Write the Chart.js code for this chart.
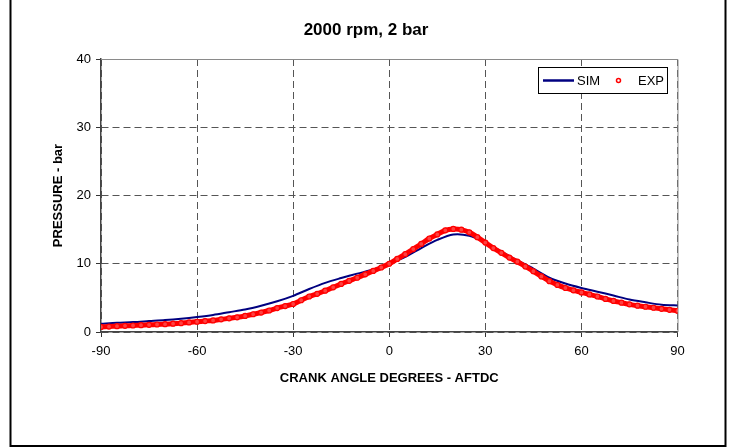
<!DOCTYPE html>
<html lang="en">
<head>
    <meta charset="UTF-8">
    <title>2000 rpm, 2 bar</title>
    <script src="https://cdn.jsdelivr.net/npm/chart.js"></script>
    <style>
        body { margin: 0; background: #fff; }
        #wrap { width: 731px; height: 448px; }
    </style>
</head>
<body>
    <div id="wrap"><canvas id="pressureChart" width="731" height="448"></canvas></div>
    <script>
        // crank angle (deg) and pressure (bar)
        const simAngles = [-90, -85, -80, -75, -70, -65, -60, -55, -50, -45, -40, -35, -30, -25, -20, -15, -10, -5,
            0, 5, 10, 15, 20, 25, 30, 35, 40, 45, 50, 55, 60, 65, 70, 75, 80, 85, 90, 91.5];
        const simPressure = [1.2, 1.35, 1.45, 1.6, 1.75, 1.95, 2.2, 2.5, 2.9, 3.3, 3.85, 4.5, 5.3, 6.3, 7.2, 7.9, 8.55, 9.15,
            10.0, 11.0, 12.3, 13.5, 14.3, 14.1, 13.1, 11.8, 10.5, 9.3, 7.95, 7.1, 6.45, 5.9, 5.35, 4.75, 4.35, 4.0, 3.9, 3.9];

        const expAngles = [-90, -87.5, -85, -82.5, -80, -77.5, -75, -72.5, -70, -67.5, -65, -62.5, -60, -57.5, -55, -52.5,
            -50, -47.5, -45, -42.5, -40, -37.5, -35, -32.5, -30, -27.5, -25, -22.5, -20, -17.5, -15, -12.5, -10, -7.5, -5, -2.5,
            0, 2.5, 5, 7.5, 10, 12.5, 15, 17.5, 20, 22.5, 25, 27.5, 30, 32.5, 35, 37.5, 40, 42.5, 45, 47.5,
            50, 52.5, 55, 57.5, 60, 62.5, 65, 67.5, 70, 72.5, 75, 77.5, 80, 82.5, 85, 87.5, 90];
        const expPressure = [0.75, 0.8, 0.85, 0.9, 0.95, 1.0, 1.05, 1.1, 1.15, 1.22, 1.3, 1.4, 1.5, 1.6, 1.7, 1.85,
            2.0, 2.15, 2.35, 2.6, 2.85, 3.15, 3.5, 3.8, 4.1, 4.65, 5.2, 5.6, 6.05, 6.55, 7.05, 7.5, 7.95, 8.45, 8.95, 9.45,
            10.0, 10.7, 11.4, 12.15, 12.9, 13.7, 14.3, 14.9, 15.1, 15.0, 14.6, 13.9, 13.1, 12.3, 11.6, 10.9, 10.3, 9.6, 8.9, 8.15,
            7.45, 6.9, 6.45, 6.1, 5.8, 5.5, 5.2, 4.85, 4.55, 4.3, 4.05, 3.85, 3.7, 3.55, 3.4, 3.25, 3.1];

        const xTicks = [-90, -60, -30, 0, 30, 60, 90];
        const yTicks = [0, 10, 20, 30, 40];

        const chartTitle = "2000 rpm, 2 bar";
        const font = "'Liberation Sans', Arial, sans-serif";

        function toPoints(xs, ys) {
            return xs.map((x, i) => ({ x: x, y: ys[i] }));
        }

        // title, plot frame, legend box and outer border
        const decorations = {
            id: "decorations",
            beforeDatasetsDraw(chart) {
                const ctx = chart.ctx;
                const a = chart.chartArea;
                ctx.save();
                ctx.strokeStyle = "#8a8a8a";
                ctx.lineWidth = 1;
                ctx.beginPath();
                ctx.moveTo(a.left, a.top + 0.5);
                ctx.lineTo(a.right + 0.5, a.top + 0.5);
                ctx.lineTo(a.right + 0.5, a.bottom);
                ctx.stroke();
                ctx.restore();
            },
            afterDraw(chart) {
                const ctx = chart.ctx;
                ctx.save();
                // title, centred on the whole picture
                ctx.fillStyle = "#000";
                ctx.font = "bold 17px " + font;
                ctx.textAlign = "center";
                ctx.textBaseline = "middle";
                ctx.fillText(chartTitle, 366, 30);
                // legend
                ctx.textAlign = "left";
                ctx.fillStyle = "#fff";
                ctx.fillRect(538.5, 67.5, 129, 26);
                ctx.strokeStyle = "#000";
                ctx.lineWidth = 1;
                ctx.strokeRect(538.5, 67.5, 129, 26);
                ctx.strokeStyle = "#000080";
                ctx.lineWidth = 2.5;
                ctx.beginPath();
                ctx.moveTo(543, 80.5);
                ctx.lineTo(574, 80.5);
                ctx.stroke();
                ctx.beginPath();
                ctx.arc(618.5, 80.5, 2, 0, Math.PI * 2);
                ctx.fillStyle = "#fff";
                ctx.fill();
                ctx.strokeStyle = "#ff0000";
                ctx.lineWidth = 1.5;
                ctx.stroke();
                ctx.fillStyle = "#000";
                ctx.font = "13px " + font;
                ctx.fillText("SIM", 577, 81);
                ctx.fillText("EXP", 638, 81);
                // outer border
                ctx.strokeStyle = "#000";
                ctx.lineWidth = 2;
                ctx.strokeRect(10.5, -5, 715, 451);
                ctx.restore();
            }
        };

        new Chart(document.getElementById("pressureChart"), {
            type: "scatter",
            data: {
                datasets: [{
                    label: "SIM",
                    data: toPoints(simAngles, simPressure),
                    showLine: true,
                    borderColor: "#000080",
                    borderWidth: 2,
                    pointRadius: 0,
                    tension: 0.3,
                    clip: { left: 0, top: 0, right: 6, bottom: 0 },
                    order: 2
                }, {
                    label: "EXP",
                    data: toPoints(expAngles, expPressure),
                    showLine: true,
                    borderColor: "#ff0000",
                    borderWidth: 5,
                    pointRadius: 2.5,
                    pointBorderWidth: 1.2,
                    pointBorderColor: "#ff0000",
                    pointBackgroundColor: "#ff4040",
                    tension: 0.3,
                    order: 1
                }]
            },
            options: {
                responsive: false,
                animation: false,
                layout: { padding: { top: 59, right: 53.5, left: 0, bottom: 0 } },
                plugins: {
                    legend: { display: false },
                    tooltip: { enabled: false },
                    title: { display: false }
                },
                scales: {
                    x: {
                        type: "linear",
                        min: -90,
                        max: 90,
                        afterBuildTicks: (scale) => { scale.ticks = xTicks.map(v => ({ value: v })); },
                        afterFit: (scale) => { scale.height = 116; },
                        ticks: {
                            color: "#000",
                            font: { family: font, size: 13 },
                            padding: 7,
                            maxRotation: 0,
                            autoSkip: false
                        },
                        grid: {
                            color: "#555",
                            lineWidth: 1,
                            tickLength: 5,
                            tickColor: "#333",
                            tickBorderDash: []
                        },
                        border: { color: "#444", width: 1.5, dash: [7, 4] },
                        title: {
                            display: true,
                            text: "CRANK ANGLE DEGREES - AFTDC",
                            color: "#000",
                            font: { family: font, size: 13, weight: "bold" },
                            padding: { top: 0, bottom: 62 }
                        }
                    },
                    y: {
                        min: 0,
                        max: 40,
                        afterBuildTicks: (scale) => { scale.ticks = yTicks.map(v => ({ value: v })); },
                        afterFit: (scale) => { scale.width = 101; },
                        ticks: {
                            color: "#000",
                            font: { family: font, size: 13 },
                            padding: 5
                        },
                        grid: {
                            color: "#555",
                            lineWidth: 1,
                            tickLength: 5,
                            tickColor: "#333",
                            tickBorderDash: []
                        },
                        border: { color: "#444", width: 1.5, dash: [7, 4] },
                        title: {
                            display: true,
                            text: "PRESSURE - bar",
                            color: "#000",
                            font: { family: font, size: 13, weight: "bold" },
                            padding: { top: 51, bottom: 0 }
                        }
                    }
                }
            },
            plugins: [decorations]
        });
    </script>
</body>
</html>
